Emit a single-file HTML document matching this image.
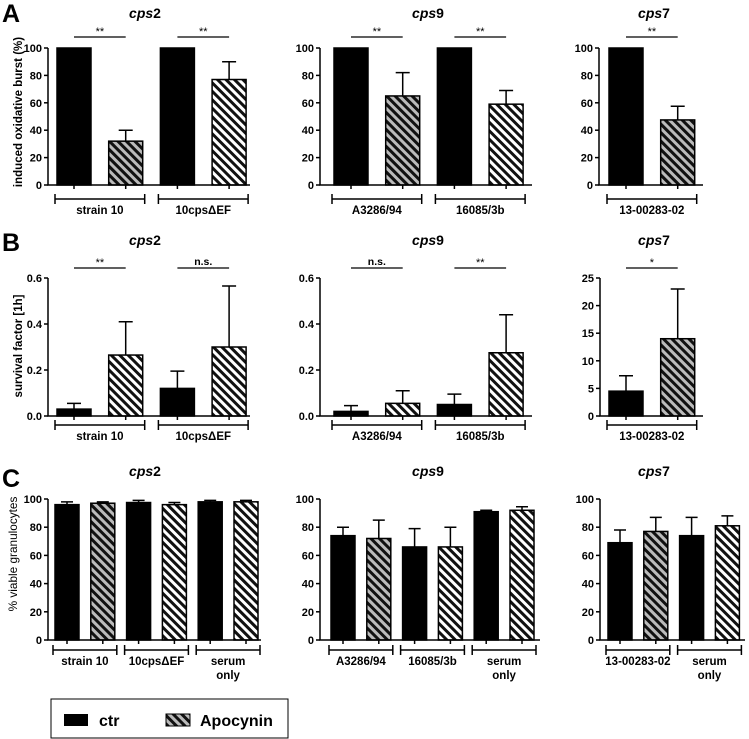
<!DOCTYPE html>
<html><head><meta charset="utf-8"><style>
body{margin:0;background:#fff;width:749px;height:739px;overflow:hidden}
svg{display:block;font-family:"Liberation Sans",Arial,sans-serif}
</style></head><body>
<svg id="fig" width="749" height="739" viewBox="0 0 749 739">
<defs>
<pattern id="hatchLight" width="6" height="6" patternUnits="userSpaceOnUse" patternTransform="rotate(-45)">
<rect width="6" height="6" fill="#bbb"/><rect width="3" height="6" fill="#111"/></pattern>
<pattern id="hatchDark" width="6" height="6" patternUnits="userSpaceOnUse" patternTransform="rotate(-45)">
<rect width="6" height="6" fill="#fff"/><rect width="3" height="6" fill="#111"/></pattern>
</defs>
<text x="2" y="22" font-size="25" font-weight="bold">A</text>
<text x="2" y="251" font-size="25" font-weight="bold">B</text>
<text x="2" y="487" font-size="25" font-weight="bold">C</text>
<text transform="translate(22,112) rotate(-90)" text-anchor="middle" font-size="11.5" font-weight="bold">induced oxidative burst (%)</text>
<text transform="translate(22,346) rotate(-90)" text-anchor="middle" font-size="11.5" font-weight="bold">survival factor [1h]</text>
<text transform="translate(17,554) rotate(-90)" text-anchor="middle" font-size="11.8">% viable granulocytes</text>
<g>
<rect x="51" y="699" width="237" height="39" fill="#fff" stroke="#000" stroke-width="1"/>
<rect x="64" y="714" width="24" height="12" fill="#000"/>
<text x="99" y="726" font-size="16" font-weight="bold">ctr</text>
<rect x="166" y="714" width="24" height="12" fill="url(#hatchLight)" stroke="#000"/>
<text x="200" y="726" font-size="16" font-weight="bold">Apocynin</text>
</g>
</svg>
<script>
// ---- data ----
const aCps2Means=[100,32,100,77]; const aCps2Err=[0,40,0,90];
const aCps9Means=[100,65,100,59]; const aCps9Err=[0,82,0,69];
const aCps7Means=[100,47.5]; const aCps7Err=[0,57.5];
const bCps2Means=[0.03,0.265,0.12,0.30]; const bCps2Err=[0.055,0.41,0.195,0.565];
const bCps9Means=[0.02,0.055,0.05,0.275]; const bCps9Err=[0.045,0.11,0.095,0.44];
const bCps7Means=[4.5,14]; const bCps7Err=[7.3,23];
const cCps2Means=[96,97,97.5,96,98,98]; const cCps2Err=[98,98,99,97.5,99,99];
const cCps9Means=[74,72,66,66,91,92]; const cCps9Err=[80,85,79,80,92,94.5];
const cCps7Means=[69,77,74,81]; const cCps7Err=[78,87,87,88];
const groupsCps2=["strain 10","10cps\u0394EF"];
const groupsCps9=["A3286/94","16085/3b"];
const groupsCps7=["13-00283-02"];
const cGroupsCps2=["strain 10","10cps\u0394EF","serum|only"];
const cGroupsCps9=["A3286/94","16085/3b","serum|only"];
const cGroupsCps7=["13-00283-02","serum|only"];
const ticks100=[0,20,40,60,80,100];
const ticksSurv=[0,0.2,0.4,0.6];
const ticksSurvLabels=["0.0","0.2","0.4","0.6"];
const ticks25=[0,5,10,15,20,25];
const sigA2=["**","**"], sigA9=["**","**"], sigA7=["**"];
const sigB2=["**","n.s."], sigB9=["n.s.","**"], sigB7=["*"];

const svg=document.getElementById('fig');
const NS='http://www.w3.org/2000/svg';
function mk(tag,attrs,parent,text){const e=document.createElementNS(NS,tag);for(const k in attrs)e.setAttribute(k,attrs[k]);if(text!==undefined)e.textContent=text;parent.appendChild(e);return e;}

function panel(c){
  const g=mk('g',{},svg);
  
  
  const yS=v=>c.y0+(c.yTop-c.y0)*(v/c.yMax);
  const bx=i=>c.first+i*c.step;
  const t=mk('text',{x:c.titleX,y:c.titleY,'text-anchor':'middle','font-size':14,'font-weight':'bold'},g);
  
  
  mk('tspan',{'font-style':'italic'},t,'cps');mk('tspan',{},t,c.num);
  c.means.forEach((m,i)=>{
    const x=bx(i), yt=yS(m);
    const fill=i%2===0?'#000':(c.dark&&c.dark.includes(i)?'url(#hatchDark)':'url(#hatchLight)');
    const r=mk('rect',{x:x,y:yt,width:c.w,height:c.y0-yt,fill:fill,stroke:'#000','stroke-width':1.5},g);
    
    
    const e=c.err[i];
    if(e>m){const cx=x+c.w/2,ye=yS(e);
      const l=mk('path',{d:`M${cx},${yt}V${ye}M${cx-c.cap},${ye}H${cx+c.cap}`,stroke:'#000','stroke-width':1.5,fill:'none'},g);
      
      }
  });
  const ax=mk('path',{d:`M${c.ax},${c.yTop}V${c.y0}H${c.axEnd}`,stroke:'#000','stroke-width':1.5,fill:'none'},g);
  
  
  c.ticks.forEach((v,i)=>{const y=yS(v);
    mk('path',{d:`M${c.ax-4},${y}H${c.ax}`,stroke:'#000','stroke-width':1.5},g);
    const tl=mk('text',{x:c.ax-6,y:y+4,'text-anchor':'end','font-size':11,'font-weight':'bold'},g,c.tickLabels?c.tickLabels[i]:String(v));
    
    });
  c.means.forEach((m,i)=>{const cx=bx(i)+c.w/2;mk('path',{d:`M${cx},${c.y0}V${c.y0+4}`,stroke:'#000','stroke-width':1.5},g);});
  c.groups.forEach((lab,k)=>{
    const x1=bx(2*k)-2, x2=bx(2*k+1)+c.w+2, y=c.brY;
    const b=mk('path',{d:`M${x1},${y-5}V${y+5}M${x1},${y}H${x2}M${x2},${y-5}V${y+5}`,stroke:'#000','stroke-width':1.5,fill:'none'},g);
    
    
    lab.split('|').forEach((s,j)=>{
      const tx=mk('text',{x:(x1+x2)/2,y:y+15+j*14,'text-anchor':'middle','font-size':11.5,'font-weight':'bold'},g,s);
      
      });
  });
  (c.sig||[]).forEach((s,k)=>{
    const x1=bx(2*k)+c.w/2, x2=bx(2*k+1)+c.w/2;
    const sl=mk('path',{d:`M${x1},${c.sigY}H${x2}`,stroke:'#000','stroke-width':1.2},g);
    
    
    const st=mk('text',{x:(x1+x2)/2,y:c.sigY-(s.startsWith('*')?2:3),'text-anchor':'middle','font-size':s.startsWith('*')?11:10.5,'font-weight':s.startsWith('*')?'normal':'bold'},g,s);
    
    
  });
}
const A={y0:185,yTop:48,yMax:100,ticks:ticks100,w:34,step:51.7,cap:7,brY:199,sigY:37,titleY:18};
const B={y0:416,yTop:278,yMax:0.6,ticks:ticksSurv,tickLabels:ticksSurvLabels,w:34,step:51.7,cap:7,brY:425,sigY:268,titleY:245};
const C={y0:640,yTop:499,yMax:100,ticks:ticks100,w:24,step:35.8,cap:6,brY:650,titleY:476};
panel({...A,name:'a-cps2',num:'2',titleX:145,ax:48,axEnd:250,first:57,means:aCps2Means,err:aCps2Err,groups:groupsCps2,sig:sigA2,dark:[3]});
panel({...A,name:'a-cps9',num:'9',titleX:428,ax:320,axEnd:532,first:334,means:aCps9Means,err:aCps9Err,groups:groupsCps9,sig:sigA9,dark:[3]});
panel({...A,name:'a-cps7',num:'7',titleX:654,ax:599,axEnd:703,first:609,means:aCps7Means,err:aCps7Err,groups:groupsCps7,sig:sigA7});
panel({...B,name:'b-cps2',num:'2',titleX:145,ax:48,axEnd:250,first:57,means:bCps2Means,err:bCps2Err,groups:groupsCps2,sig:sigB2,dark:[1,3]});
panel({...B,name:'b-cps9',num:'9',titleX:428,ax:320,axEnd:532,first:334,means:bCps9Means,err:bCps9Err,groups:groupsCps9,sig:sigB9,dark:[1,3]});
panel({...B,name:'b-cps7',num:'7',titleX:654,ax:600,axEnd:703,first:609,yMax:25,ticks:ticks25,tickLabels:null,means:bCps7Means,err:bCps7Err,groups:groupsCps7,sig:sigB7});
panel({...C,name:'c-cps2',num:'2',titleX:145,ax:48,axEnd:261,first:55,means:cCps2Means,err:cCps2Err,groups:cGroupsCps2,dark:[3,5]});
panel({...C,name:'c-cps9',num:'9',titleX:428,ax:320,axEnd:540,first:331,means:cCps9Means,err:cCps9Err,groups:cGroupsCps9,dark:[3,5]});
panel({...C,name:'c-cps7',num:'7',titleX:654,ax:600,axEnd:745,first:608,means:cCps7Means,err:cCps7Err,groups:cGroupsCps7,dark:[3]});
</script>
</body></html>
